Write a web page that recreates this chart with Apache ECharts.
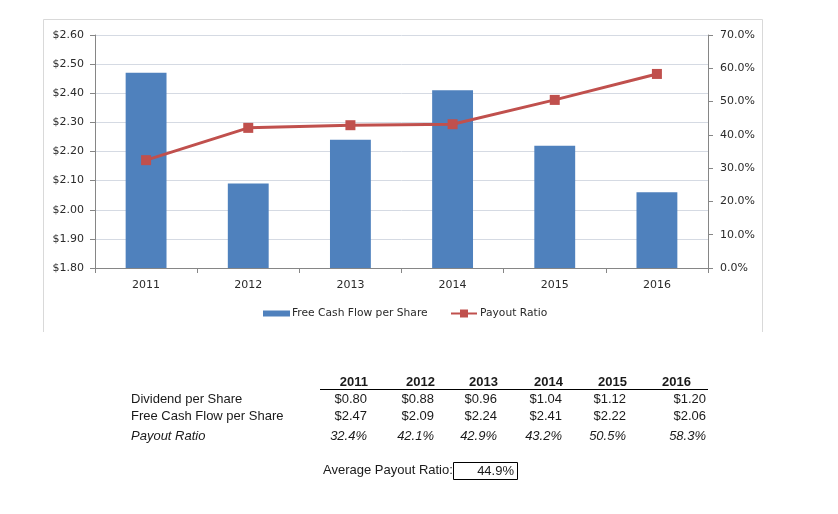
<!DOCTYPE html>
<html>
<head>
<meta charset="utf-8">
<script src="https://cdn.jsdelivr.net/npm/echarts@6/dist/echarts.min.js"></script>
<style>
html,body{margin:0;padding:0;background:#fff;}
#c{width:838px;height:514px;}
</style>
</head>
<body>
<div id="c"></div>
<script>
const years = ['2011','2012','2013','2014','2015','2016'];
const dividendPerShare = [0.80, 0.88, 0.96, 1.04, 1.12, 1.20];
const fcfPerShare = [2.47, 2.09, 2.24, 2.41, 2.22, 2.06];
const payoutRatio = [32.4, 42.1, 42.9, 43.2, 50.5, 58.3];
const averagePayout = 44.9;
const leftTicks = {min: 1.8, max: 2.6, interval: 0.1};
const rightTicks = {min: 0, max: 70, interval: 10};

const chart = echarts.init(document.getElementById('c'), null, {renderer: 'canvas'});

const chartFont = 'DejaVu Sans, Verdana, sans-serif';
const tableFont = 'Liberation Sans, Arial, sans-serif';
const txt = '#2a2a2a';
const tcol = '#1a1a1a';

// table graphics
const headerRight = [368, 435, 498, 563, 627, 691];
const valueRight = [367, 434, 497, 562, 626, 706];
const g = [];
// frame
g.push({type:'polyline', shape:{points:[[43.5,332],[43.5,19.5],[762.5,19.5],[762.5,332]]}, style:{stroke:'#d9d9d9', lineWidth:1, fill:null}, silent:true});
years.forEach((y,i)=>{
  g.push({type:'text', x: headerRight[i], y: 382, style:{text:y, font:'bold 13px '+tableFont, fill:tcol, align:'right', verticalAlign:'middle'}});
  g.push({type:'text', x: valueRight[i], y: 399, style:{text:'$'+dividendPerShare[i].toFixed(2), font:'13px '+tableFont, fill:tcol, align:'right', verticalAlign:'middle'}});
  g.push({type:'text', x: valueRight[i], y: 416, style:{text:'$'+fcfPerShare[i].toFixed(2), font:'13px '+tableFont, fill:tcol, align:'right', verticalAlign:'middle'}});
  g.push({type:'text', x: valueRight[i], y: 436, style:{text:payoutRatio[i].toFixed(1)+'%', font:'italic 13px '+tableFont, fill:tcol, align:'right', verticalAlign:'middle'}});
});
g.push({type:'line', shape:{x1:320, y1:389.5, x2:708, y2:389.5}, style:{stroke:'#000', lineWidth:1}});
g.push({type:'text', x:131, y:399, style:{text:'Dividend per Share', font:'13px '+tableFont, fill:tcol, verticalAlign:'middle'}});
g.push({type:'text', x:131, y:416, style:{text:'Free Cash Flow per Share', font:'13px '+tableFont, fill:tcol, verticalAlign:'middle'}});
g.push({type:'text', x:131, y:436, style:{text:'Payout Ratio', font:'italic 13px '+tableFont, fill:tcol, verticalAlign:'middle'}});
g.push({type:'text', x:323, y:470, style:{text:'Average Payout Ratio:', font:'13px '+tableFont, fill:tcol, verticalAlign:'middle'}});
g.push({type:'rect', shape:{x:453.5, y:462.5, width:64, height:17}, style:{stroke:'#000', lineWidth:1, fill:null}});
g.push({type:'text', x:514, y:471, style:{text:averagePayout.toFixed(1)+'%', font:'13px '+tableFont, fill:tcol, align:'right', verticalAlign:'middle'}});

const option = {
  animation: false,
  backgroundColor: '#fff',
  textStyle: {fontFamily: chartFont},
  grid: {left: 95, right: 130, top: 35, bottom: 246, containLabel: false},
  legend: [
    {data:[{name:'Free Cash Flow per Share', icon:'rect'}], left: 263, top: 308, padding: 0, itemWidth: 27, itemHeight: 6, itemGap: 4,
     textStyle:{fontFamily: chartFont, fontSize: 10.7, color: txt, padding:[0,0,0,-3]}},
    {data:['Payout Ratio'], left: 450, top: 308, padding: 0, itemWidth: 26, itemHeight: 10,
     textStyle:{fontFamily: chartFont, fontSize: 10.7, color: txt, padding:[0,0,0,-2]}}
  ],
  xAxis: {
    type: 'category', data: years,
    axisLine: {lineStyle: {color: '#868686'}},
    axisTick: {show: true, alignWithLabel: false, length: 5, lineStyle: {color: '#868686'}},
    axisLabel: {color: txt, fontSize: 11, fontFamily: chartFont, margin: 12},
    splitLine: {show: false}
  },
  yAxis: [
    {type: 'value', min: leftTicks.min, max: leftTicks.max, interval: leftTicks.interval,
     axisLine: {show: true, lineStyle: {color: '#868686'}},
     axisTick: {show: true, length: 5, lineStyle: {color: '#868686'}},
     axisLabel: {color: txt, fontSize: 11, fontFamily: chartFont, margin: 11, formatter: v => '$' + v.toFixed(2)},
     splitLine: {show: true, lineStyle: {color: '#d5dae3', width: 1}}},
    {type: 'value', min: rightTicks.min, max: rightTicks.max, interval: rightTicks.interval, position: 'right',
     axisLine: {show: true, lineStyle: {color: '#868686'}},
     axisTick: {show: true, length: 5, lineStyle: {color: '#868686'}},
     axisLabel: {color: txt, fontSize: 11, fontFamily: chartFont, margin: 12, formatter: v => v.toFixed(1) + '%'},
     splitLine: {show: false}}
  ],
  series: [
    {name: 'Free Cash Flow per Share', type: 'bar', data: fcfPerShare, yAxisIndex: 0, barWidth: '40%',
     itemStyle: {color: '#4f81bd'}},
    {name: 'Payout Ratio', type: 'line', data: payoutRatio, yAxisIndex: 1,
     symbol: 'rect', symbolSize: 10, lineStyle: {color: '#c0504d', width: 3},
     itemStyle: {color: '#c0504d'}}
  ],
  graphic: g
};
chart.setOption(option);
</script>
</body>
</html>
